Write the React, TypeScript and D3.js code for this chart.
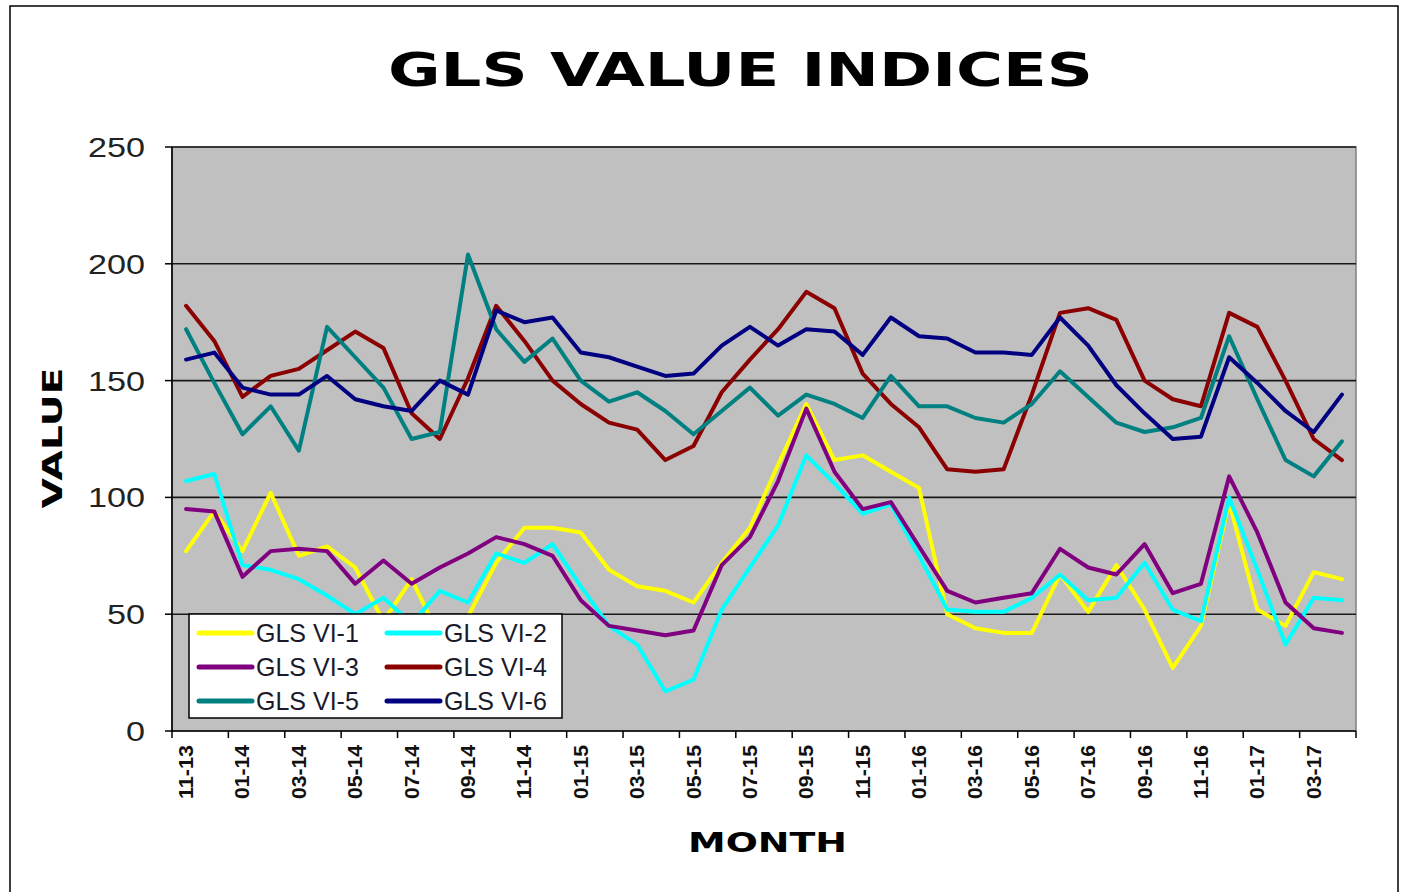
import React from "react";
import * as d3 from "d3";

const months = [
  "11-13","12-13","01-14","02-14","03-14","04-14","05-14","06-14","07-14","08-14","09-14","10-14",
  "11-14","12-14","01-15","02-15","03-15","04-15","05-15","06-15","07-15","08-15","09-15","10-15",
  "11-15","12-15","01-16","02-16","03-16","04-16","05-16","06-16","07-16","08-16","09-16","10-16",
  "11-16","12-16","01-17","02-17","03-17","04-17",
];

const seriesNames = ["GLS VI-1","GLS VI-2","GLS VI-3","GLS VI-4","GLS VI-5","GLS VI-6"];
const seriesColors = ["#FFFF00","#00FFFF","#800080","#8B0000","#008080","#000080"];

const vi1 = [77,94,77,102,75,79,70,47,65,40,49,72,87,87,85,69,62,60,55,72,87,114,140,116,118,111,104,50,44,42,42,67,51,71,52,27,45,98,52,45,68,65];
const vi2 = [107,110,71,69,65,58,50,57,46,60,55,76,72,80,62,45,37,17,22,52,70,88,118,106,93,97,75,52,51,51,57,67,56,57,72,52,47,100,69,37,57,56];
const vi3 = [95,94,66,77,78,77,63,73,63,70,76,83,80,75,56,45,43,41,43,71,83,107,138,111,95,98,79,60,55,57,59,78,70,67,80,59,63,109,85,55,44,42];
const vi4 = [182,167,143,152,155,163,171,164,136,125,151,182,167,150,140,132,129,116,122,145,159,172,188,181,153,140,130,112,111,112,144,179,181,176,150,142,139,179,173,150,125,116];
const vi5 = [172,149,127,139,120,173,160,147,125,128,204,172,158,168,150,141,145,137,127,137,147,135,144,140,134,152,139,139,134,132,140,154,143,132,128,130,134,169,142,116,109,124];
const vi6 = [159,162,147,144,144,152,142,139,137,150,144,180,175,177,162,160,156,152,153,165,173,165,172,171,161,177,169,168,162,162,161,177,165,148,136,125,126,160,149,137,128,144];

const seriesValues = [vi1, vi2, vi3, vi4, vi5, vi6];
const yTicks = [0, 50, 100, 150, 200, 250];

const W = 1409, H = 892;
const PL = 172, PR = 1356, PT = 147, PB = 731;

export default function App() {
  const x = d3.scaleBand<string>().domain(months).range([PL, PR]).padding(0);
  const bw = x.bandwidth();
  const cx = (m: string) => (x(m) as number) + bw / 2;
  const y = d3.scaleLinear().domain([0, 250]).range([PB, PT]);
  const line = d3.line<number>().x((_, i) => cx(months[i])).y((v) => y(v));

  const tickBoundaries = d3.range(0, months.length + 1, 2).map((i) => PL + i * bw);
  const labelMonths = months.filter((_, i) => i % 2 === 0);

  const legendX = 189, legendY = 614, legendW = 373, legendH = 104;

  return (
    <svg width={W} height={H} style={{ position: "absolute", left: 0, top: 0, display: "block" }}
      fontFamily="'Liberation Sans', Arial, sans-serif">
      <rect x={0} y={0} width={W} height={H} fill="#ffffff" />
      <rect x={10} y={6} width={1388} height={900} fill="none" stroke="#000" strokeWidth={1.5} />

      <text x={740.5} y={86} textAnchor="middle" fontFamily="'DejaVu Sans', sans-serif" fontWeight="bold"
        fontSize={47} textLength={705} lengthAdjust="spacingAndGlyphs" fill="#000">GLS VALUE INDICES</text>

      {/* plot area */}
      <rect x={PL} y={PT} width={PR - PL} height={PB - PT} fill="#C0C0C0" stroke="#808080" strokeWidth={1.5} />
      {yTicks.filter((t) => t > 0).map((t) => (
        <line key={t} x1={PL} x2={PR} y1={y(t)} y2={y(t)} stroke="#1a1a1a" strokeWidth={1.6} />
      ))}

      {seriesValues.map((vals, si) => (
        <path key={si} d={line(vals) as string} fill="none" stroke={seriesColors[si]} strokeWidth={4}
          strokeLinejoin="round" strokeLinecap="round" />
      ))}

      {/* axes */}
      <line x1={PL} x2={PL} y1={PT} y2={PB + 0.5} stroke="#000" strokeWidth={1.6} />
      <line x1={PL} x2={PR} y1={PB} y2={PB} stroke="#000" strokeWidth={1.6} />
      {yTicks.map((t) => (
        <g key={t}>
          <line x1={PL - 7} x2={PL} y1={y(t)} y2={y(t)} stroke="#000" strokeWidth={1.5} />
          <text x={145} y={y(t) + 10} textAnchor="end" fontSize={28} fill="#222"
            textLength={19 * String(t).length} lengthAdjust="spacingAndGlyphs">{t}</text>
        </g>
      ))}
      {tickBoundaries.map((bx, i) => (
        <line key={i} x1={bx} x2={bx} y1={PB} y2={PB + 7} stroke="#000" strokeWidth={1.5} />
      ))}
      {labelMonths.map((m) => (
        <text key={m} transform={`translate(${cx(m) + 7},745) rotate(-90)`} textAnchor="end"
          fontSize={20} fontWeight="bold" fill="#111" textLength={54} lengthAdjust="spacingAndGlyphs">{m}</text>
      ))}

      <text transform="translate(62,438) rotate(-90)" textAnchor="middle" fontFamily="'DejaVu Sans', sans-serif"
        fontWeight="bold" fontSize={27} textLength={141} lengthAdjust="spacingAndGlyphs" fill="#000">VALUE</text>
      <text x={767.5} y={852} textAnchor="middle" fontFamily="'DejaVu Sans', sans-serif" fontWeight="bold"
        fontSize={27} textLength={159} lengthAdjust="spacingAndGlyphs" fill="#000">MONTH</text>

      {/* legend */}
      <rect x={legendX} y={legendY} width={legendW} height={legendH} fill="#fff" stroke="#000" strokeWidth={1.5} />
      {seriesNames.map((name, i) => {
        const col = i % 2, row = Math.floor(i / 2);
        const lx = legendX + 10 + col * 188;
        const ly = legendY + 19 + row * 34;
        return (
          <g key={name}>
            <line x1={lx} x2={lx + 53} y1={ly} y2={ly} stroke={seriesColors[i]} strokeWidth={5} strokeLinecap="round" />
            <text x={lx + 57} y={ly + 9} fontSize={25} fill="#1a1a2a">{name}</text>
          </g>
        );
      })}
    </svg>
  );
}
